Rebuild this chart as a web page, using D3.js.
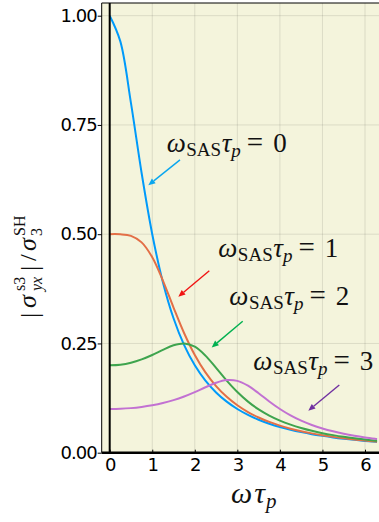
<!DOCTYPE html>
<html>
<head>
<meta charset="utf-8">
<script src="https://cdn.jsdelivr.net/npm/d3@7"></script>
<style>
  html, body { margin: 0; padding: 0; background: #ffffff; }
  svg { display: block; }
</style>
</head>
<body>
<svg id="chart" width="379" height="522"></svg>
<script>
// ---- data ----
const omega = [0, 0.25, 0.5, 0.75, 1, 1.25, 1.5, 1.75, 2, 2.25, 2.5, 2.75, 3, 3.25, 3.5, 3.75,
               4, 4.25, 4.5, 4.75, 5, 5.25, 5.5, 5.75, 6, 6.25, 6.2832];
const sas0 = [1.0, 0.9412, 0.8, 0.64, 0.5, 0.3902, 0.3077, 0.2462, 0.2, 0.1649, 0.1379, 0.1168, 0.1,
              0.0865, 0.0755, 0.0664, 0.0588, 0.0525, 0.0471, 0.0424, 0.0385, 0.0350, 0.0320,
              0.0294, 0.0270, 0.0250, 0.0247];
const sas1 = [0.5, 0.4998, 0.4961, 0.4813, 0.4472, 0.3940, 0.3322, 0.2734, 0.2236, 0.1837, 0.1524,
              0.1278, 0.1085, 0.0930, 0.0806, 0.0704, 0.0620, 0.0550, 0.0491, 0.0442, 0.0399,
              0.0362, 0.0330, 0.0302, 0.0277, 0.0256, 0.0253];
const sas2 = [0.2, 0.2015, 0.2060, 0.2135, 0.2236, 0.2353, 0.2457, 0.2500, 0.2425, 0.2222, 0.1940,
              0.1648, 0.1387, 0.1169, 0.0992, 0.0850, 0.0735, 0.0642, 0.0565, 0.0501, 0.0447,
              0.0402, 0.0363, 0.0330, 0.0301, 0.0276, 0.0273];
const sas3 = [0.1, 0.1005, 0.1020, 0.1047, 0.1085, 0.1136, 0.1203, 0.1287, 0.1387, 0.1497, 0.16,
              0.1662, 0.1644, 0.1533, 0.1360, 0.1172, 0.1, 0.0854, 0.0733, 0.0635, 0.0555,
              0.0489, 0.0434, 0.0388, 0.0349, 0.0316, 0.0312];
const seriesNames = ["0", "1", "2", "3"];
const xTicks = [0, 1, 2, 3, 4, 5, 6];
const yTicks = [0, 0.25, 0.5, 0.75, 1.0];
const yTickLabels = ["0.00", "0.25", "0.50", "0.75", "1.00"];
// annotation label anchors (data coords) and arrows [x1,y1,x2(tip),y2(tip)]
const labelPos = [[1.34, 0.688], [2.552, 0.4485], [2.811, 0.338], [3.375, 0.189]];
const arrows = [[1.652, 0.670, 0.907, 0.612],
                [2.341, 0.4165, 1.612, 0.357],
                [3.126, 0.301, 2.397, 0.241],
                [5.396, 0.155, 4.667, 0.096]];

// ---- styles ----
const lineColors = ["#009afa", "#e36f47", "#3ea44e", "#c271d2"];
const arrowColors = ["#0aa6ee", "#f01414", "#00b050", "#7030a0"];
const serif = "'Liberation Serif', 'DejaVu Serif', serif";

const svg = d3.select("#chart");
const pLeft = 101.7, pTop = 3, pBottom = 452.7, pRight = 379;
const x = d3.scaleLinear().domain([0, 6]).range([109.7, 365.0]);
const y = d3.scaleLinear().domain([0, 1]).range([pBottom, pBottom - 437]);

// plot background
svg.append("rect").attr("x", pLeft).attr("y", pTop).attr("width", pRight - pLeft + 2)
  .attr("height", pBottom - pTop).attr("fill", "#f4f4dc");

// grid
const grid = svg.append("g").attr("stroke", "#000").attr("stroke-opacity", 0.1).attr("stroke-width", 1);
xTicks.filter(d => d > 0).forEach(d => {
  grid.append("line").attr("x1", x(d)).attr("x2", x(d)).attr("y1", pTop).attr("y2", pBottom);
});
yTicks.filter(d => d > 0).forEach(d => {
  grid.append("line").attr("x1", pLeft).attr("x2", pRight + 2).attr("y1", y(d)).attr("y2", y(d));
});

// frame lines
svg.append("line").attr("x1", pLeft).attr("x2", pLeft).attr("y1", pTop).attr("y2", pBottom)
  .attr("stroke", "#000").attr("stroke-width", 1);
svg.append("line").attr("x1", pLeft).attr("x2", pRight + 2).attr("y1", pTop).attr("y2", pTop)
  .attr("stroke", "#000").attr("stroke-width", 1);

// curves
const series = [sas0, sas1, sas2, sas3];
const line = d3.line().x((d, i) => x(omega[i])).y(d => y(d)).curve(d3.curveCatmullRom);
svg.append("clipPath").attr("id", "clip").append("rect")
  .attr("x", pLeft).attr("y", pTop).attr("width", pRight - pLeft + 2).attr("height", pBottom - pTop);
series.forEach((s, k) => {
  svg.append("path").datum(s).attr("d", line).attr("fill", "none")
    .attr("stroke", lineColors[k]).attr("stroke-width", 2).attr("clip-path", "url(#clip)");
});

// zero lines (x = 0 vertical, y = 0 horizontal)
svg.append("line").attr("x1", x(0)).attr("x2", x(0)).attr("y1", pTop).attr("y2", pBottom)
  .attr("stroke", "#000").attr("stroke-width", 2);
svg.append("line").attr("x1", pLeft).attr("x2", pRight + 2).attr("y1", pBottom).attr("y2", pBottom)
  .attr("stroke", "#000").attr("stroke-width", 2.6);

// axes
const yAxis = d3.axisLeft(y).tickValues(yTicks).tickFormat((d, i) => yTickLabels[i])
  .tickSize(4).tickPadding(1);
const gy = svg.append("g").attr("transform", `translate(${pLeft},0)`).call(yAxis);
const xAxis = d3.axisBottom(x).tickValues(xTicks).tickFormat(d3.format("d"))
  .tickSizeInner(-3).tickSizeOuter(0).tickPadding(6);
const gx = svg.append("g").attr("transform", `translate(0,${pBottom})`).call(xAxis);
[gx, gy].forEach(g => {
  g.select(".domain").remove();
  g.selectAll(".tick line").attr("stroke", "#000").attr("stroke-width", 1);
  g.selectAll(".tick text").attr("fill", "#000")
    .style("font-family", "'DejaVu Sans', sans-serif").style("font-size", "18px")
    .style("letter-spacing", "-1px");
});

// annotations
labelPos.forEach((p, k) => {
  const t = svg.append("text").attr("x", x(p[0])).attr("y", y(p[1]))
    .style("font-family", serif).style("font-size", "27px").attr("fill", "#111");
  t.append("tspan").text("ω").style("font-style", "italic");
  t.append("tspan").text("SAS").style("font-size", "19px").attr("dy", 4).attr("dx", 0.5);
  t.append("tspan").text("τ").style("font-style", "italic").attr("dy", -4).attr("dx", 0.5);
  t.append("tspan").text("p").style("font-style", "italic").style("font-size", "19px").attr("dy", 5);
  t.append("tspan").text("=").attr("dy", -5).attr("dx", 6).style("font-size", "29px");
  t.append("tspan").text(seriesNames[k]).attr("dx", 10);
});

arrows.forEach((a, k) => {
  const x1 = x(a[0]), y1 = y(a[1]), x2 = x(a[2]), y2 = y(a[3]);
  const ang = Math.atan2(y2 - y1, x2 - x1);
  const hl = 7, hw = 3;
  const bx = x2 - hl * Math.cos(ang), by = y2 - hl * Math.sin(ang);
  svg.append("line").attr("x1", x1).attr("y1", y1).attr("x2", bx).attr("y2", by)
    .attr("stroke", arrowColors[k]).attr("stroke-width", 1.4);
  const pts = [[x2, y2],
               [bx + hw * Math.sin(ang), by - hw * Math.cos(ang)],
               [bx - hw * Math.sin(ang), by + hw * Math.cos(ang)]];
  svg.append("polygon").attr("points", pts.map(p => p.join(",")).join(" "))
    .attr("fill", arrowColors[k]);
});

// x label
const xl = svg.append("text").attr("x", 231).attr("y", 503)
  .style("font-family", serif).style("font-size", "30px").attr("fill", "#111");
xl.append("tspan").text("ω").style("font-style", "italic");
xl.append("tspan").text("τ").style("font-style", "italic").attr("dx", 2);
xl.append("tspan").text("p").style("font-style", "italic").style("font-size", "21px").attr("dy", 5).attr("dx", 1);

// y label (rotated)
const yl = svg.append("g").attr("transform", "translate(36,266) rotate(-90)")
  .style("font-family", serif).attr("fill", "#111");
function yt(str, gxp, gyp, size, italic) {
  yl.append("text").attr("x", gxp).attr("y", gyp).text(str)
    .style("font-size", size + "px").style("font-style", italic ? "italic" : "normal");
}
yt("|", -52, 2, 26, false);
yt("σ", -42, 0, 26, true);
yt("s3", -25, -11, 16, false);
yt("yx", -25, 6, 16, true);
yt("|", -5, 2, 26, false);
yt("/", 5, 0, 24, false);
yt("σ", 15, 0, 26, true);
yt("SH", 30, -11, 16, false);
yt("3", 30, 6, 16, false);
</script>
</body>
</html>
